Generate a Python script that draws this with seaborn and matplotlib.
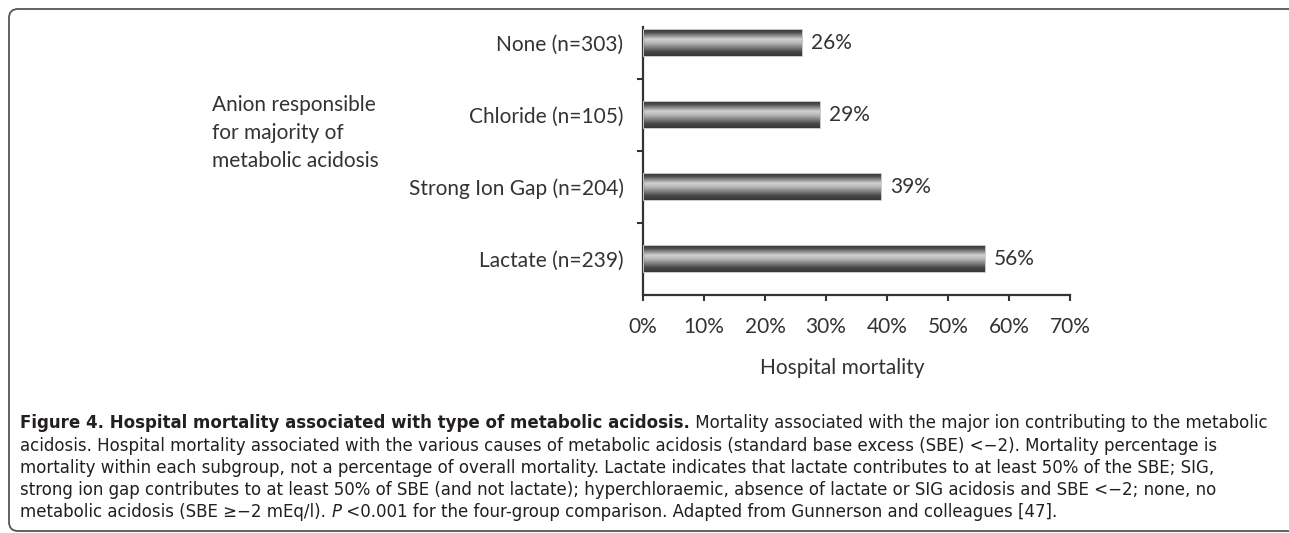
import numpy as np
import matplotlib
matplotlib.use('Agg')
import matplotlib.pyplot as plt
import seaborn as sns
from matplotlib.patches import FancyBboxPatch

# ---- data ----
categories = ["None (n=303)", "Chloride (n=105)", "Strong Ion Gap (n=204)", "Lactate (n=239)"]
mortality = [26, 29, 39, 56]
xticks = [0, 10, 20, 30, 40, 50, 60, 70]
xtick_labels = [f"{v}%" for v in xticks]
value_labels = [f"{v}%" for v in mortality]
group_title = "Anion responsible\nfor majority of\nmetabolic acidosis"
x_title = "Hospital mortality"

cap_bold = "Figure 4. Hospital mortality associated with type of metabolic acidosis."
cap_l1 = " Mortality associated with the major ion contributing to the metabolic"
cap_l2 = "acidosis. Hospital mortality associated with the various causes of metabolic acidosis (standard base excess (SBE) <\u22122). Mortality percentage is"
cap_l3 = "mortality within each subgroup, not a percentage of overall mortality. Lactate indicates that lactate contributes to at least 50% of the SBE; SIG,"
cap_l4 = "strong ion gap contributes to at least 50% of SBE (and not lactate); hyperchloraemic, absence of lactate or SIG acidosis and SBE <\u22122; none, no"
cap_l5a = "metabolic acidosis (SBE \u2265\u22122 mEq/l). "
cap_l5b = "P"
cap_l5c = " <0.001 for the four-group comparison. Adapted from Gunnerson and colleagues [47]."

# ---- style ----
sns.set_style('white')
plt.rcParams['font.family'] = ['Lato', 'DejaVu Sans']
TXT = '#333333'
FS = 15
CAP = ['DejaVu Sans']

W, H = 1289, 533
fig = plt.figure(figsize=(W / 100, H / 100), dpi=100)


def fx(px):
    return px / W


def fy(py):
    return 1 - py / H


# rounded frame (right side runs off the image as in the reference)
frame = FancyBboxPatch((fx(9), fy(531)), fx(1320) - fx(9), fy(9) - fy(531),
                       boxstyle="round,pad=0,rounding_size=0.007",
                       transform=fig.transFigure, fill=False, edgecolor='#555555',
                       linewidth=1.3, mutation_aspect=W / H)
fig.add_artist(frame)

ax = fig.add_axes([fx(643), fy(295), fx(1070) - fx(643), fy(27) - fy(295)])
sns.barplot(x=mortality, y=categories, orient='h', width=0.375, color='#555555',
            saturation=1, ax=ax)

# cylinder-like gradient shading inside each bar (top -> bottom)
prof_pos = [0.0, 0.15, 0.45, 0.6, 0.85, 1.0]
prof_val = [0.22, 0.28, 0.7, 0.82, 0.3, 0.2]
grad = np.interp(np.linspace(0, 1, 64), prof_pos, prof_val)[::-1].reshape(-1, 1)
for p in ax.patches:
    bb = p.get_bbox()
    x0, x1 = bb.x0, bb.x1
    y0, y1 = min(bb.y0, bb.y1), max(bb.y0, bb.y1)
    im = ax.imshow(grad, cmap='gray', vmin=0, vmax=1, aspect='auto',
                   extent=(x0, x1, y0, y1), origin='lower', zorder=2,
                   interpolation='bilinear')
    im.set_clip_path(p)
    p.set_facecolor('none')
    p.set_edgecolor('#c8c8c8')
    p.set_linewidth(0.7)
    p.set_zorder(3)

ax.set_xlim(0, 70)
ax.set_ylim(3.5, -0.22)
ax.set_xticks(xticks)
ax.set_xticklabels(xtick_labels)
ax.set_yticks(range(len(categories)))
ax.set_yticklabels(categories)
ax.set_yticks([0.5, 1.5, 2.5], minor=True)

ax.bar_label(ax.containers[0], labels=value_labels, padding=6.5,
             fontsize=FS, color=TXT)

for s in ['top', 'right']:
    ax.spines[s].set_visible(False)
for s in ['left', 'bottom']:
    ax.spines[s].set_color('#333333')
    ax.spines[s].set_linewidth(1.6)

ax.tick_params(axis='y', which='major', length=0, pad=14, labelsize=FS, labelcolor=TXT)
ax.tick_params(axis='y', which='minor', length=4.5, width=1.5, color='#333333', direction='out')
ax.tick_params(axis='x', which='major', length=4, width=1.5, color='#333333',
               direction='out', pad=12, labelsize=FS, labelcolor=TXT)
ax.tick_params(bottom=True, left=True, which='both')

ax.set_xlabel(x_title, fontsize=FS, color=TXT, va='center')
ax.xaxis.set_label_coords((842.5 - 643) / 427, (295 - 368) / 268)
ax.set_ylabel('')

fig.text(fx(212), fy(133), group_title, ha='left', va='center', fontsize=FS,
         color=TXT, linespacing=1.5)

# caption
cs = 12
cc = '#231f20'
t1 = fig.text(fx(20), fy(423), cap_bold, ha='left', va='center', fontsize=cs,
              color=cc, weight='bold', family=CAP)
ax.annotate(cap_l1, xy=(1, 0), xycoords=t1, ha='left', va='bottom', fontsize=cs,
            color=cc, family=CAP, annotation_clip=False)
for i, line in enumerate([cap_l2, cap_l3, cap_l4]):
    fig.text(fx(20), fy(446 + 22 * i), line, ha='left', va='center', fontsize=cs,
             color=cc, family=CAP)
t5 = fig.text(fx(20), fy(512), cap_l5a, ha='left', va='center', fontsize=cs,
              color=cc, family=CAP)
t6 = ax.annotate(cap_l5b, xy=(1, 0), xycoords=t5, ha='left', va='bottom', fontsize=cs,
                 color=cc, family=CAP, style='italic', annotation_clip=False)
ax.annotate(cap_l5c, xy=(1, 0), xycoords=t6, ha='left', va='bottom', fontsize=cs,
            color=cc, family=CAP, annotation_clip=False)

fig.savefig('out.png', dpi=100)
